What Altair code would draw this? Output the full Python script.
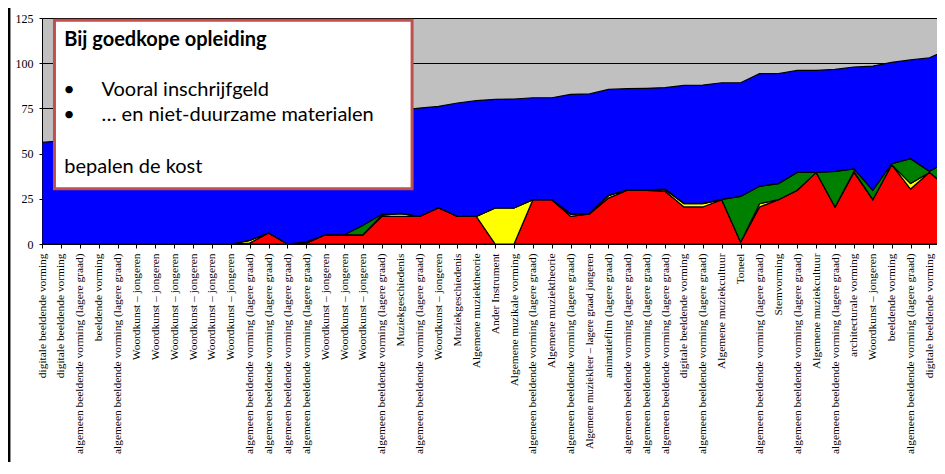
import json
import altair as alt
import pandas as pd

# ---------------- data ----------------
labels = [
    "digitale beeldende vorming",
    "digitale beeldende vorming",
    "algemeen beeldende vorming (lagere graad)",
    "beeldende vorming",
    "algemeen beeldende vorming (lagere graad)",
    "Woordkunst – jongeren",
    "Woordkunst – jongeren",
    "Woordkunst – jongeren",
    "Woordkunst – jongeren",
    "Woordkunst – jongeren",
    "Woordkunst – jongeren",
    "algemeen beeldende vorming (lagere graad)",
    "algemeen beeldende vorming (lagere graad)",
    "algemeen beeldende vorming (lagere graad)",
    "algemeen beeldende vorming (lagere graad)",
    "Woordkunst – jongeren",
    "Woordkunst – jongeren",
    "Woordkunst – jongeren",
    "algemeen beeldende vorming (lagere graad)",
    "Muziekgeschiedenis",
    "algemeen beeldende vorming (lagere graad)",
    "Woordkunst – jongeren",
    "Muziekgeschiedenis",
    "Algemene muziektheorie",
    "Ander Instrument",
    "Algemene muzikale vorming",
    "algemeen beeldende vorming (lagere graad)",
    "Algemene muziektheorie",
    "algemeen beeldende vorming (lagere graad)",
    "Algemene muziekleer – lagere graad jongeren",
    "animatiefilm (lagere graad)",
    "algemeen beeldende vorming (lagere graad)",
    "algemeen beeldende vorming (lagere graad)",
    "algemeen beeldende vorming (lagere graad)",
    "digitale beeldende vorming",
    "algemeen beeldende vorming (lagere graad)",
    "Algemene muziekcultuur",
    "Toneel",
    "algemeen beeldende vorming (lagere graad)",
    "Stemvorming",
    "algemeen beeldende vorming (lagere graad)",
    "Algemene muziekcultuur",
    "algemeen beeldende vorming (lagere graad)",
    "architecturale vorming",
    "Woordkunst – jongeren",
    "beeldende vorming",
    "algemeen beeldende vorming (lagere graad)",
    "digitale beeldende vorming",
]

# last point (index 48) lies just beyond the cropped right edge
red = [0, 0, 0, 0, 0, 0, 0, 0, 0, 0,
       0, 0.5, 6.1, 0, 0.5, 5.1, 5.1, 5.1, 15.3, 15.3,
       15.3, 20.1, 15.3, 15.3, 0, 0, 24.5, 24.5, 15.3, 16.6,
       25.4, 29.7, 29.7, 29.2, 20.5, 20.5, 24.5, 1.0, 20.5, 24.5,
       29.7, 39.6, 20.5, 39.6, 24.5, 43.9, 30.4, 39.6, 31.0]
yellow = [0, 0, 0, 0, 0, 0, 0, 0, 0, 0,
          0, 1.5, 0, 0, 0, 0, 0, 0, 0.7, 1.5,
          0, 0, 0, 0, 19.9, 19.9, 0, 0, 1.1, 0.3,
          1.3, 0.2, 0.1, 1.0, 1.8, 1.8, 0, 0, 1.8, 0,
          0, 0, 0, 0.6, 0, 0, 3.0, 0, 0]
green = [0, 0, 0, 0, 0, 0, 0, 0, 0, 0,
         0, 0, 0, 0, 0.7, 0, 0, 5.3, 0.4, 0.1,
         0, 0, 0, 0, 0, 0, 0, 0, 0.4, 0.1,
         0.3, 0.1, 0.1, 0.2, 0.2, 0.2, 0.2, 25.3, 9.6, 8.9,
         9.9, 0, 19.7, 1.3, 5.2, 0.5, 13.8, 0.6, 15.0]
total = [56.2, 57.0, 58.5, 59.5, 60.5, 61.5, 62.3, 63.0, 64.0, 65.0,
         66.0, 66.8, 67.5, 68.3, 69.2, 70.0, 71.0, 72.0, 73.0, 74.0,
         75.2, 76.1, 78.0, 79.3, 80.0, 80.2, 80.9, 80.9, 82.8, 83.0,
         85.5, 85.9, 86.1, 86.5, 87.7, 87.9, 89.2, 89.2, 94.2, 94.2,
         96.0, 96.0, 96.6, 97.9, 98.4, 100.5, 101.8, 103.0, 107.5]

series_names = ["rood", "geel", "groen", "blauw"]
series_colors = ["#FF0000", "#FFFF00", "#008000", "#0000FF"]

rows = []
for i in range(len(total)):
    blue = round(total[i] - red[i] - yellow[i] - green[i], 2)
    for k, v in enumerate([red[i], yellow[i], green[i], blue]):
        rows.append({"x": i, "serie": series_names[k], "waarde": v, "volgorde": k})
df = pd.DataFrame(rows)

title_line = "Bij goedkope opleiding"
bullet_lines = ["Vooral inschrijfgeld", "… en niet-duurzame materialen"]
closing_line = "bepalen de kost"

# ---------------- chart ----------------
label_expr = json.dumps(labels, ensure_ascii=False) + "[datum.value]"

xscale = alt.Scale(domain=[0, 47.4], nice=False, zero=False)
yscale = alt.Scale(domain=[0, 125], nice=False)

x_axis = alt.Axis(values=list(range(48)), labelExpr=label_expr,
                  labelAngle=270, labelFont="Liberation Serif",
                  labelFontSize={"condition": {"test": "datum.value == 29", "value": 10.6},
                                 "value": 11.4},
                  labelColor="black",
                  labelLimit=400, labelOverlap=False,
                  labelPadding=5, tickSize=4, tickColor="black",
                  domainColor="black", grid=False, title=None)
y_axis = alt.Axis(values=[0, 25, 50, 75, 100, 125],
                  labelFont="Liberation Serif", labelFontSize=12,
                  labelColor="black", tickSize=3, tickColor="black",
                  labelPadding=6, domainColor="black",
                  grid=True, gridColor="black", gridWidth=1, title=None)

areas = alt.Chart(df).mark_area(
    stroke="black", strokeWidth=1.2, clip=True, interpolate="linear"
).encode(
    x=alt.X("x:Q", scale=xscale, axis=x_axis),
    y=alt.Y("waarde:Q", stack="zero", scale=yscale, axis=y_axis),
    color=alt.Color("serie:N",
                    scale=alt.Scale(domain=series_names, range=series_colors),
                    legend=None),
    order=alt.Order("volgorde:Q"),
)

box_df = pd.DataFrame({"x1": [0.66], "x2": [19.6], "y1": [123.7], "y2": [30.6]})
box = alt.Chart(box_df).mark_rect(
    fill="white", stroke="#C0504D", strokeWidth=3
).encode(
    x=alt.X("x1:Q", scale=xscale, axis=x_axis),
    x2="x2:Q",
    y=alt.Y("y1:Q", scale=yscale, axis=y_axis),
    y2="y2:Q",
)

def text_layer(df_, weight):
    return alt.Chart(df_).mark_text(
        align="left", baseline="alphabetic", font="Lato", fontSize=20,
        color="black", fontWeight=weight
    ).encode(
        x=alt.X("xpos:Q", scale=xscale, axis=x_axis),
        y=alt.Y("ypos:Q", scale=yscale, axis=y_axis),
        text="t:N",
    )

t_title = text_layer(pd.DataFrame({"t": [title_line], "xpos": [1.18], "ypos": [109.3]}), "bold")
t_body = text_layer(pd.DataFrame({
    "t": bullet_lines + [closing_line] + ["•", "•"],
    "xpos": [3.15, 3.15, 1.18, 1.12, 1.12],
    "ypos": [81.6, 67.8, 39.3, 81.6, 67.8],
}), "normal")

# slide frame edge at the far left
frame = alt.Chart(pd.DataFrame({"a": [0]})).mark_rule(
    color="black", strokeWidth=2.5
).encode(x=alt.value(-32.8), y=alt.value(-12), y2=alt.value(446))

chart = alt.layer(areas, box, t_title, t_body, frame).properties(
    width=895, height=226,
    background="white",
    autosize=alt.AutoSizeParams(type="none"),
    padding={"left": 34, "top": 10, "right": 0, "bottom": 218},
).configure_view(
    fill="#C0C0C0", stroke="#808080", strokeWidth=1
)

chart.save("out.html", embed_options={"renderer": "svg", "actions": False})
